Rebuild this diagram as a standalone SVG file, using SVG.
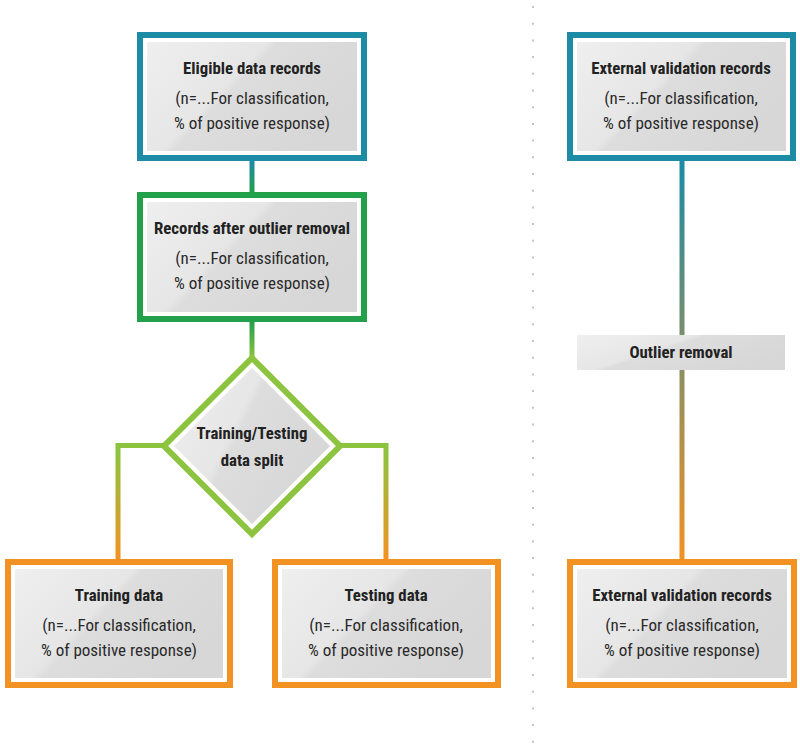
<svg xmlns="http://www.w3.org/2000/svg" width="800" height="745" viewBox="0 0 800 745">
<defs>
<style>
.box{fill:#fff;stroke-width:6}
.teal{stroke:#1b8ba6}
.green{stroke:#23a04a}
.lgreen{stroke:#8cc43f}
.orange{stroke:#f29222}
.fill{fill:url(#gray)}
.t{font-family:"Liberation Sans Narrow","Roboto Condensed","Liberation Sans",Arial,sans-serif;font-weight:bold;font-size:16.8px;fill:#222;text-anchor:middle}
.b{font-family:"Liberation Sans Narrow","Roboto Condensed","Liberation Sans",Arial,sans-serif;font-size:17px;fill:#2a2a2a;text-anchor:middle}
.conn{fill:none;stroke-width:5}
</style>
<linearGradient id="gray" x1="0" y1="0" x2="1" y2="0.5">
<stop offset="0" stop-color="#efefef"/>
<stop offset="0.46" stop-color="#e6e6e6"/>
<stop offset="0.5" stop-color="#dddddd"/>
<stop offset="1" stop-color="#d7d7d7"/>
</linearGradient>
<linearGradient id="g1" gradientUnits="userSpaceOnUse" x1="0" y1="161" x2="0" y2="192">
<stop offset="0" stop-color="#1b8ba6"/><stop offset="1" stop-color="#23a04a"/>
</linearGradient>
<linearGradient id="g2" gradientUnits="userSpaceOnUse" x1="0" y1="322" x2="0" y2="358">
<stop offset="0" stop-color="#23a04a"/><stop offset="1" stop-color="#8cc43f"/>
</linearGradient>
<linearGradient id="g3" gradientUnits="userSpaceOnUse" x1="0" y1="450" x2="0" y2="559">
<stop offset="0" stop-color="#8cc43f"/><stop offset="1" stop-color="#f29222"/>
</linearGradient>
<linearGradient id="g4" gradientUnits="userSpaceOnUse" x1="0" y1="161" x2="0" y2="559">
<stop offset="0" stop-color="#1b8ba6"/><stop offset="1" stop-color="#f29222"/>
</linearGradient>
</defs>
<rect width="800" height="745" fill="#fff"/>
<line x1="533" y1="6" x2="533" y2="745" stroke="#c4c4c4" stroke-width="2" stroke-dasharray="2 14.7"/>
<g id="connectors">
<line class="conn" x1="252" y1="161" x2="252" y2="192" stroke="url(#g1)"/>
<line class="conn" x1="252" y1="322" x2="252" y2="359" stroke="url(#g2)"/>
<path class="conn" d="M166 445.5H118V559" stroke="url(#g3)"/>
<path class="conn" d="M338 445.5H386V559" stroke="url(#g3)"/>
<line class="conn" x1="682" y1="161" x2="682" y2="559" stroke="url(#g4)"/>
</g>
<g id="eligible">
<rect class="box teal" x="140" y="35" width="224" height="123"/>
<rect class="fill" x="147" y="42" width="210" height="109"/>
<text class="t" x="252" y="74">Eligible data records</text>
<text class="b" x="252" y="104">(n=...For classification,</text>
<text class="b" x="252" y="129">% of positive response)</text>
</g>
<g id="after-outlier">
<rect class="box green" x="140" y="195" width="224" height="124"/>
<rect class="fill" x="147" y="202" width="210" height="110"/>
<text class="t" x="252" y="234">Records after outlier removal</text>
<text class="b" x="252" y="264">(n=...For classification,</text>
<text class="b" x="252" y="289">% of positive response)</text>
</g>
<g id="split">
<polygon class="box lgreen" points="252,358 340,446 252,534 164,446"/>
<polygon class="fill" points="252,368 330,446 252,524 174,446"/>
<text class="t" x="252" y="439">Training/Testing</text>
<text class="t" x="252" y="466">data split</text>
</g>
<g id="training">
<rect class="box orange" x="8" y="562" width="222" height="123"/>
<rect class="fill" x="15" y="569" width="208" height="109"/>
<text class="t" x="119" y="601">Training data</text>
<text class="b" x="119" y="631">(n=...For classification,</text>
<text class="b" x="119" y="656">% of positive response)</text>
</g>
<g id="testing">
<rect class="box orange" x="275" y="562" width="223" height="123"/>
<rect class="fill" x="282" y="569" width="209" height="109"/>
<text class="t" x="386" y="601">Testing data</text>
<text class="b" x="386" y="631">(n=...For classification,</text>
<text class="b" x="386" y="656">% of positive response)</text>
</g>
<g id="external-top">
<rect class="box teal" x="570" y="35" width="223" height="123"/>
<rect class="fill" x="577" y="42" width="209" height="109"/>
<text class="t" x="681" y="74">External validation records</text>
<text class="b" x="681" y="104">(n=...For classification,</text>
<text class="b" x="681" y="129">% of positive response)</text>
</g>
<g id="outlier-removal">
<rect class="fill" x="577" y="335" width="208" height="35"/>
<text class="t" x="681" y="358">Outlier removal</text>
</g>
<g id="external-bottom">
<rect class="box orange" x="570" y="562" width="224" height="123"/>
<rect class="fill" x="577" y="569" width="210" height="109"/>
<text class="t" x="682" y="601">External validation records</text>
<text class="b" x="682" y="631">(n=...For classification,</text>
<text class="b" x="682" y="656">% of positive response)</text>
</g>
</svg>
